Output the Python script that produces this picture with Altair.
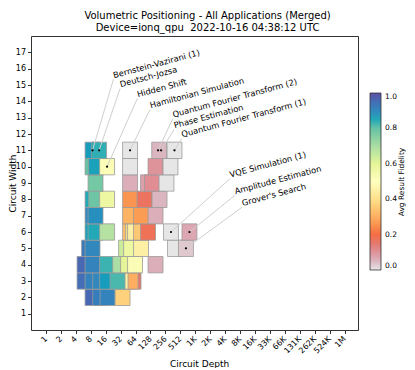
import altair as alt
import pandas as pd

# ---------------- data ----------------
# each box: circuit width (qubits), average circuit depth, average result fidelity
box_qubits = [2, 2, 2, 2,
              3, 3, 3, 3, 3, 3, 3, 3,
              4, 4, 4, 4, 4, 4, 4,
              5, 5, 5, 5, 5, 5, 5,
              6, 6, 6, 6, 6, 6, 6, 6, 6, 6,
              7, 7, 7, 7, 7,
              8, 8, 8, 8, 8, 8,
              9, 9, 9, 9, 9,
              10, 10, 10, 10, 10, 10,
              11, 11, 11, 11, 11]
box_depth = [8.7, 12.4, 17.5, 35.1,
             6.0, 8.7, 12.4, 17.1, 58.4, 50.9, 32.0, 27.8,
             6.0, 8.7, 17.1, 31.3, 45.3, 62.6, 162.0,
             7.4, 8.7, 41.3, 52.1, 82.7, 399.8, 665.4,
             8.7, 10.0, 17.1, 49.7, 57.1, 62.6, 82.7, 114.4, 332.2, 782.6,
             8.7, 10.0, 49.7, 82.7, 162.0,
             8.7, 10.3, 17.1, 49.7, 97.3, 195.0,
             10.0, 49.7, 114.4, 137.7, 269.6,
             8.7, 10.3, 17.1, 49.7, 162.0, 324.5,
             8.7, 11.8, 49.7, 192.3, 390.7]
box_fidelity = [0.96, 0.92, 0.91, 0.37,
                0.95, 0.91, 0.90, 0.87, 0.15, 0.30, 0.45, 0.82,
                0.96, 0.91, 0.83, 0.70, 0.60, 0.52, 0.06,
                0.93, 0.90, 0.64, 0.57, 0.45, 0.0, 0.03,
                0.86, 0.85, 0.68, 0.33, 0.40, 0.45, 0.35, 0.18, 0.0, 0.07,
                0.90, 0.89, 0.31, 0.27, 0.06,
                0.85, 0.79, 0.57, 0.26, 0.17, 0.05,
                0.78, 0.06, 0.08, 0.11, 0.0,
                0.80, 0.86, 0.52, 0.0, 0.10, 0.0,
                0.87, 0.84, 0.0, 0.05, 0.0]

# annotations: application name, annotated point, label anchor
ann_names = ["Bernstein-Vazirani (1)", "Deutsch-Jozsa", "Hidden Shift",
             "Hamiltonian Simulation", "Quantum Fourier Transform (2)",
             "Phase Estimation", "Quantum Fourier Transform (1)",
             "VQE Simulation (1)", "Amplitude Estimation", "Grover's Search"]
ann_depth = [8.7, 11.8, 17.1, 49.7, 182.0, 210.0, 390.7, 332.2, 782.6, 665.4]
ann_qubits = [11, 11, 10, 11, 11, 11, 11, 6, 6, 5]
label_depth = [22.9, 31.3, 69.6, 125.4, 359.5, 382.6, 545.0, 5113.0, 6426.0, 9025.0]
label_qubits = [15.34, 14.79, 14.17, 13.50, 12.94, 12.27, 11.72, 9.26, 8.24, 7.52]

depth_tick_labels = ["1", "2", "4", "8", "16", "32", "64", "128", "256", "512",
                     "1K", "2K", "4K", "8K", "16K", "33K", "66K", "131K",
                     "262K", "524K", "1M"]
width_ticks = list(range(1, 18))

fid_stops = [0.0, 0.05, 0.1, 0.15, 0.2, 0.3, 0.4, 0.5, 0.6, 0.7, 0.8, 0.9, 1.0]
fid_colors = ["#e6e6e6", "#dbb5bf", "#de929a", "#e47970", "#f46d43", "#fdae61",
              "#fee08b", "#ffffbf", "#e6f598", "#abdda4", "#66c2a5", "#3288bd",
              "#5e4fa2"]

title_lines = ["Volumetric Positioning - All Applications (Merged)",
               "Device=ionq_qpu\u00a0 2022-10-16 04:38:12 UTC"]

# ---------------- tables ----------------
boxes = pd.DataFrame({"qubits": box_qubits, "depth": box_depth,
                      "fidelity": box_fidelity})
ann = pd.DataFrame({"name": ann_names, "depth": ann_depth, "qubits": ann_qubits,
                    "ldepth": label_depth, "lqubits": label_qubits})

FONT = "DejaVu Sans"
W, H = 327, 294

x_scale = alt.Scale(domain=[-1, 20.9], nice=False, zero=False)
y_scale = alt.Scale(domain=[0, 18], nice=False, zero=False)

label_js = "[" + ",".join("'%s'" % s for s in depth_tick_labels) + "]"
x_axis = alt.Axis(values=list(range(len(depth_tick_labels))), tickCount=100,
                  labelExpr=label_js + "[datum.value]",
                  labelAngle=315, labelAlign="right", labelBaseline="middle",
                  labelPadding=4, tickSize=3.5, grid=False, domain=False,
                  labelOverlap=False, labelFlush=False,
                  labelFontSize=8, titleFontSize=9, titleFontWeight="normal",
                  titleX=168, titleY=33, titleBaseline="middle",
                  labelColor="black", titleColor="black", tickColor="#333")
y_axis = alt.Axis(values=width_ticks, tickCount=100, format="d", grid=False,
                  domain=False, tickSize=3.5,
                  labelOverlap=False, labelFlush=False,
                  labelPadding=2, labelFontSize=8, titleFontSize=9,
                  titleFontWeight="normal", titleX=-19, titleY=147,
                  titleAngle=270, titleAlign="center", titleBaseline="middle",
                  labelColor="black", titleColor="black", tickColor="#333")

color_scale = alt.Scale(domain=fid_stops, range=fid_colors)
legend = alt.Legend(orient="none", legendX=339, legendY=57, direction="vertical",
                    gradientLength=177, gradientThickness=11, title=None,
                    values=[0.0, 0.2, 0.4, 0.6, 0.8, 1.0], format=".1f",
                    labelFontSize=7.5, labelOffset=4, labelColor="black",
                    labelOverlap=False, padding=0,
                    strokeColor="rgba(0,0,0,0)",
                    gradientStrokeColor="#333", gradientStrokeWidth=0.8,
                    labelFont=FONT)

rects = alt.Chart(boxes).transform_calculate(
    lx="log(datum.depth)/log(2) - 0.5",
    lx2="log(datum.depth)/log(2) + 0.5",
    wy="datum.qubits - 0.5",
    wy2="datum.qubits + 0.5",
).mark_rect(stroke="#9a9a9a", strokeWidth=0.8).encode(
    x=alt.X("lx:Q", scale=x_scale, axis=x_axis, title="Circuit Depth"),
    x2="lx2:Q",
    y=alt.Y("wy:Q", scale=y_scale, axis=y_axis, title="Circuit Width"),
    y2="wy2:Q",
    color=alt.Color("fidelity:Q", scale=color_scale, legend=legend),
)

ann_base = alt.Chart(ann).transform_calculate(
    px="log(datum.depth)/log(2)",
    tx="log(datum.ldepth)/log(2)",
)

lines = ann_base.mark_rule(color="#cfcfcf", strokeWidth=1).encode(
    x=alt.X("px:Q", scale=x_scale, title="Circuit Depth"),
    y=alt.Y("qubits:Q", scale=y_scale, title="Circuit Width"),
    x2="tx:Q",
    y2="lqubits:Q",
)

dots = ann_base.mark_point(filled=True, color="black", size=5, opacity=1).encode(
    x=alt.X("px:Q", scale=x_scale, title="Circuit Depth"),
    y=alt.Y("qubits:Q", scale=y_scale, title="Circuit Width"),
)

texts = ann_base.mark_text(angle=345, align="left", baseline="alphabetic",
                           fontSize=8.3, font=FONT, color="black",
                           dx=1, dy=-1).encode(
    x=alt.X("tx:Q", scale=x_scale, title="Circuit Depth"),
    y=alt.Y("lqubits:Q", scale=y_scale, title="Circuit Width"),
    text="name:N",
)

cbar_title = alt.Chart(pd.DataFrame({"t": ["Avg Result Fidelity"]})).mark_text(
    angle=270, align="center", baseline="middle", fontSize=7.5, font=FONT,
    color="black").encode(x=alt.value(371), y=alt.value(146), text="t:N")

chart = alt.layer(rects, lines, dots, texts, cbar_title).properties(
    width=W, height=H,
    autosize=alt.AutoSizeParams(type="none"),
    padding={"left": 23, "top": 28, "right": 49, "bottom": 38},
    title=alt.TitleParams(text=title_lines, fontSize=10, font=FONT,
                          fontWeight="normal", anchor="middle", dx=13,
                          offset=3, lineHeight=12, color="black"),
).configure_view(stroke="#333", strokeWidth=1).configure_axis(
    labelFont=FONT, titleFont=FONT)

chart.save("out.html", embed_options={"renderer": "svg", "actions": False})
